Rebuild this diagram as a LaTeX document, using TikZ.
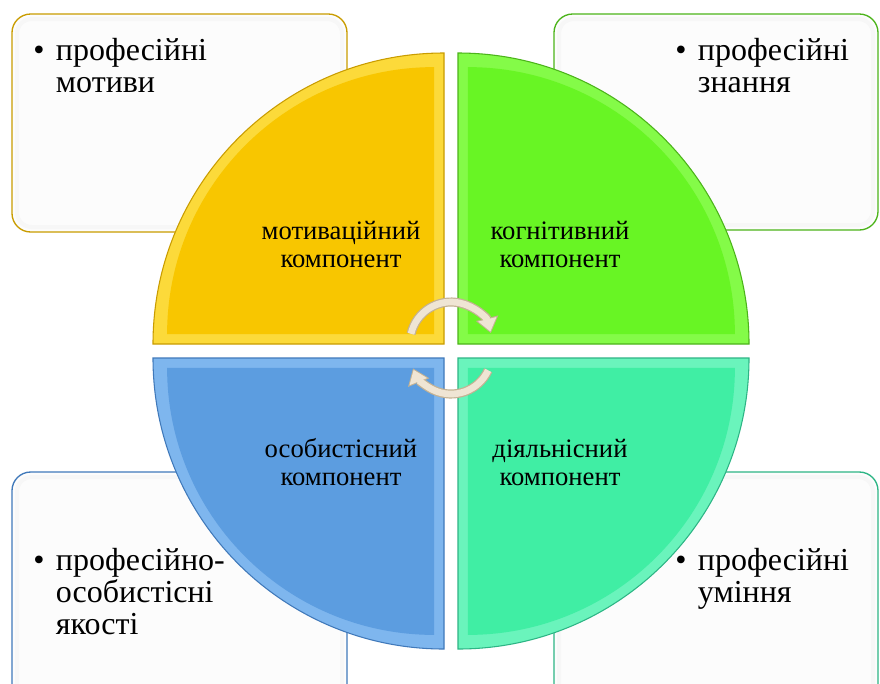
\documentclass[tikz,border=0pt]{standalone}
\usepackage{fontspec}
\setmainfont{Liberation Serif}
\usetikzlibrary{positioning,calc,arrows.meta}
\def\rad{291}
\def\rim{267}
\definecolor{goldface}{HTML}{F8C600}
\definecolor{goldbevel}{HTML}{FCDA3A}
\definecolor{goldrim}{HTML}{C99C00}
\definecolor{greenface}{HTML}{68F524}
\definecolor{greenbevel}{HTML}{84FB48}
\definecolor{greenrim}{HTML}{4CB41A}
\definecolor{tealface}{HTML}{40EEA4}
\definecolor{tealbevel}{HTML}{6AF4BC}
\definecolor{tealrim}{HTML}{2DB585}
\definecolor{blueface}{HTML}{5C9DE0}
\definecolor{bluebevel}{HTML}{7EB6EE}
\definecolor{bluerim}{HTML}{4079BA}
\definecolor{arrowface}{HTML}{EFE5D4}
\definecolor{arrowrim}{HTML}{C4B293}
\tikzstyle{itembox}=[rounded corners=14pt,fill=black!1,line width=1pt]
\tikzstyle{itemtext}=[font=\fontsize{24}{24}\selectfont,align=left,anchor=north west,inner sep=0pt]
\tikzstyle{partname}=[font=\fontsize{20}{21}\selectfont,align=center]
\tikzstyle{turn}=[line width=6.8pt,draw=arrowrim,-{Triangle[length=11.5pt,width=16.5pt]}]
\tikzstyle{turnface}=[line width=5pt,draw=arrowface,shorten >=1.2pt,-{Triangle[length=9.5pt,width=13.5pt]}]
\newcommand{\bl}{\makebox[17pt][l]{\textbullet}}
\newcommand{\ind}{\hspace*{17pt}}
\newcommand{\newBox}[5]{\draw[itembox,draw=#5] (#1,#2) rectangle (#3,#4);
  \draw[black!3,line width=3pt,rounded corners=11pt] ($(#1,#2)+(5,5)$) rectangle ($(#3,#4)+(-5,-5)$);}
\newcommand{\newQuadrant}[5]{\filldraw[#4,draw=#5,line width=0.8pt] (#1) -- ++(#2:\rad)
    arc[start angle=#2,delta angle=90,radius=\rad] -- cycle;
  \fill[#3] ($(#1)+(#2+45:14)$) -- ++(#2:\rim) arc[start angle=#2,delta angle=90,radius=\rim] -- cycle;}

\begin{document}
\begin{tikzpicture}[x=0.75pt,y=-0.75pt]
  \useasboundingbox (0,0) rectangle (880,683);
  \clip (0,0) rectangle (880,683);
  \fill[white] (0,0) rectangle (880,683);
  % side boxes
  \newBox{12}{14}{347}{232}{goldrim}
  \newBox{554}{14}{878}{230}{greenrim}
  \newBox{12}{472}{347}{705}{bluerim}
  \newBox{554}{472}{878}{705}{tealrim}
  % circle parts
  \newQuadrant{444,344}{180}{goldface}{goldbevel}{goldrim}
  \newQuadrant{458,344}{270}{greenface}{greenbevel}{greenrim}
  \newQuadrant{458,358}{0}{tealface}{tealbevel}{tealrim}
  \newQuadrant{444,358}{90}{blueface}{bluebevel}{bluerim}
  % box texts
  \node[itemtext] (motives) at (33,38) {\bl професійні\\\ind мотиви};
  \node[itemtext] (knowledge) at (675,38) {\bl професійні\\\ind знання};
  \node[itemtext] (qualities) at (33,548) {\bl професійно-\\\ind особистісні\\\ind якості};
  \node[itemtext] (skills) at (675,548) {\bl професійні\\\ind уміння};
  % part names
  \node[partname] (motivation) at (341,244) {мотиваційний\\компонент};
  \node[partname] (cognition) at (560,244) {когнітивний\\компонент};
  \node[partname] (personality) at (341,462) {особистісний\\компонент};
  \node[partname] (activity) at (560,462) {діяльнісний\\компонент};
  % cycle arrows
  \coordinate (upper) at (451,343);
  \coordinate (lower) at (451,353);
  \draw[turn] (upper) ++(-167:41) arc[start angle=-167,end angle=-14,radius=41];
  \draw[turnface] (upper) ++(-167:41) arc[start angle=-167,end angle=-14,radius=41];
  \draw[turn] (lower) ++(25:41) arc[start angle=25,end angle=158,radius=41];
  \draw[turnface] (lower) ++(25:41) arc[start angle=25,end angle=158,radius=41];
\end{tikzpicture}
\end{document}
